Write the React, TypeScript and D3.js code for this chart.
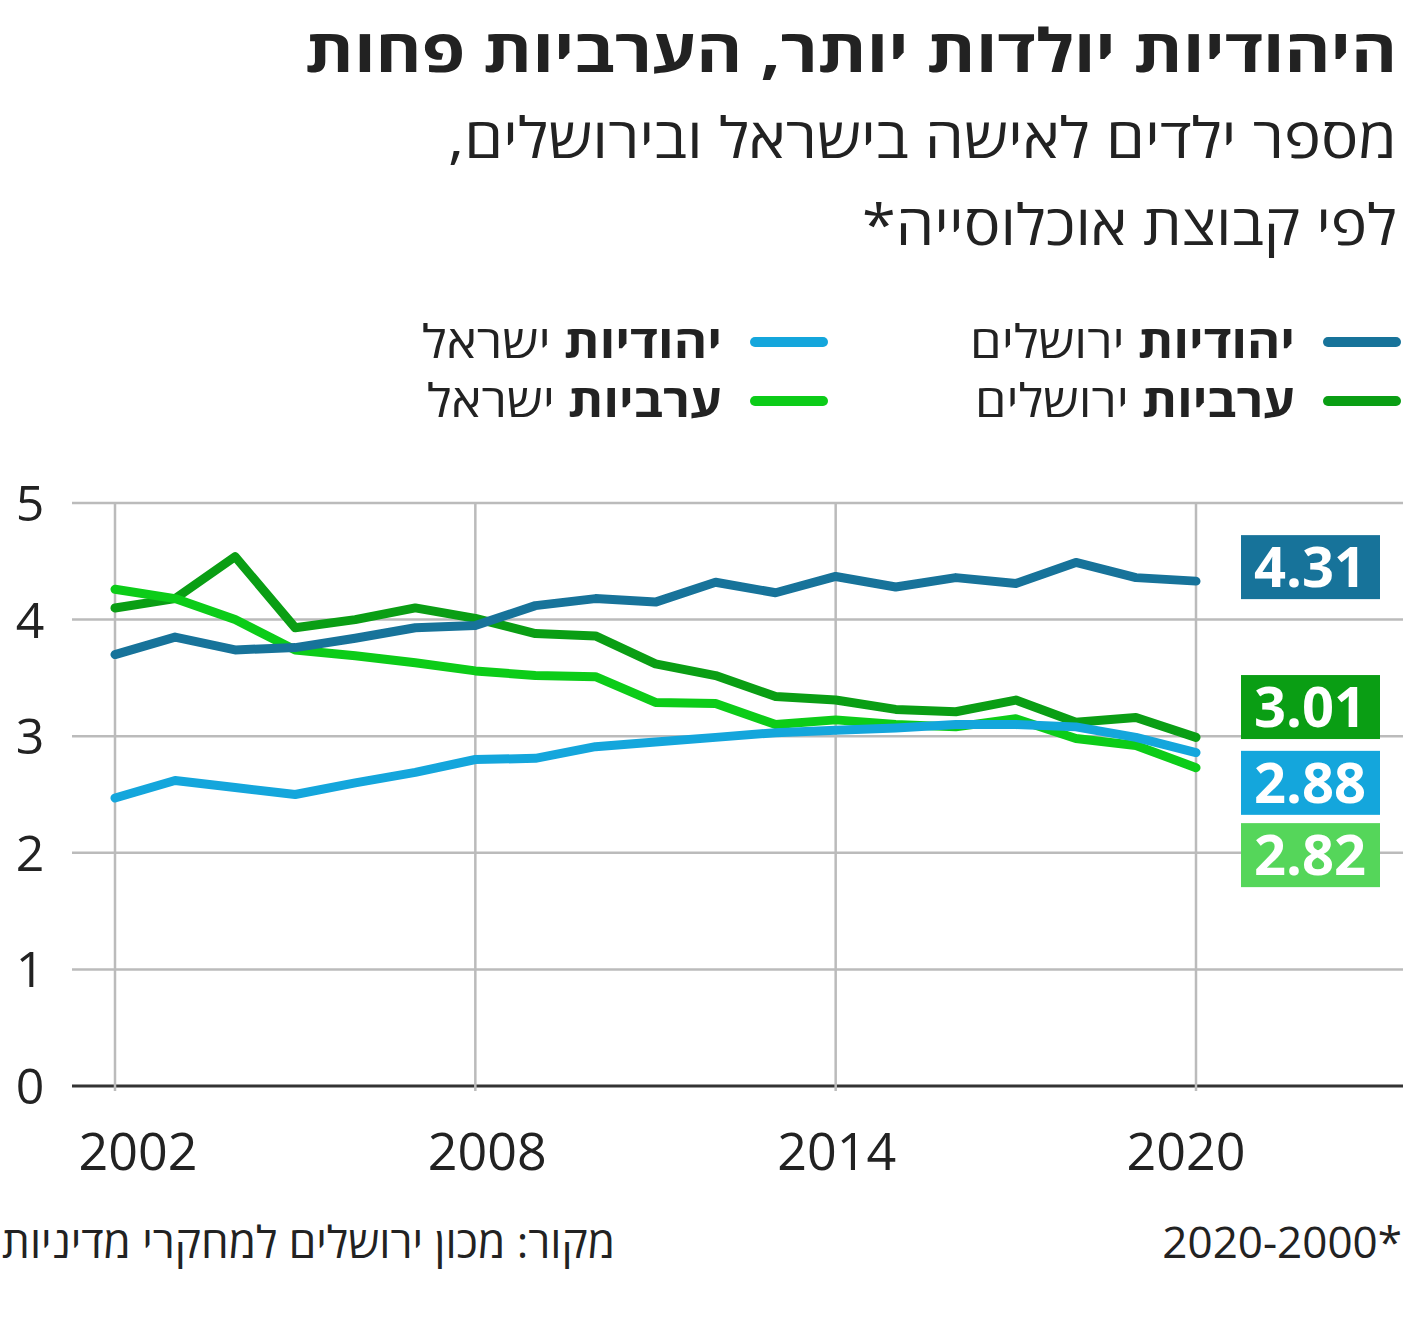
import React from 'react';
import * as d3 from 'd3';

const years = d3.range(2002, 2021);
const jerJewish = [3.70, 3.85, 3.74, 3.76, 3.84, 3.93, 3.95, 4.12, 4.18, 4.15, 4.32, 4.23, 4.37, 4.28, 4.36, 4.31, 4.49, 4.36, 4.33];
const isrJewish = [2.47, 2.62, 2.56, 2.50, 2.60, 2.69, 2.80, 2.81, 2.91, 2.95, 2.99, 3.03, 3.05, 3.07, 3.10, 3.10, 3.08, 2.99, 2.86];
const jerArab = [4.10, 4.18, 4.54, 3.93, 4.00, 4.10, 4.01, 3.88, 3.86, 3.62, 3.52, 3.34, 3.31, 3.23, 3.21, 3.31, 3.12, 3.16, 2.99];
const isrArab = [4.26, 4.18, 4.00, 3.74, 3.69, 3.63, 3.56, 3.52, 3.51, 3.29, 3.28, 3.10, 3.14, 3.10, 3.08, 3.15, 2.98, 2.92, 2.73];
const xTicks = [2002, 2008, 2014, 2020];
const yTicks = [0, 1, 2, 3, 4, 5];

const series = [
  { name: 'jerArab', values: jerArab, color: '#0a9e14', label: '3.01', labelY: 3.25, box: '#0a9e14' },
  { name: 'isrArab', values: isrArab, color: '#0ccc18', label: '2.82', labelY: 1.98, box: '#55d65a' },
  { name: 'isrJewish', values: isrJewish, color: '#14a6dc', label: '2.88', labelY: 2.6, box: '#14a6dc' },
  { name: 'jerJewish', values: jerJewish, color: '#17739a', label: '4.31', labelY: 4.45, box: '#17739a' },
];

const font = '"Open Sans", "Noto Sans", sans-serif';

export default function App() {
  const W = 1405, H = 1340;
  const x = d3.scaleLinear().domain([2002, 2020]).range([115, 1196]);
  const y = d3.scaleLinear().domain([0, 5]).range([1086, 503]);
  const line = d3.line<number>().x((_, i) => x(years[i])).y(d => y(d));

  const legend = [
    { lx: 1328, tx: 1295, ly: 342, bold: 'יהודיות', rest: ' ירושלים', color: '#17739a', len: 325 },
    { lx: 1328, tx: 1295, ly: 401, bold: 'ערביות', rest: ' ירושלים', color: '#0a9e14', len: 320 },
    { lx: 755, tx: 722, ly: 342, bold: 'יהודיות', rest: ' ישראל', color: '#14a6dc', len: 300 },
    { lx: 755, tx: 722, ly: 401, bold: 'ערביות', rest: ' ישראל', color: '#0ccc18', len: 295 },
  ];

  return (
    <svg width={W} height={H} style={{ position: 'absolute', left: 0, top: 0, background: '#fff' }} fontFamily={font}>
      <text x={1397} y={72} direction="rtl" textAnchor="start" fontSize={60} fontWeight={700} fill="#222" textLength={1092} lengthAdjust="spacingAndGlyphs">היהודיות יולדות יותר, הערביות פחות</text>
      <text x={1397} y={158} direction="rtl" textAnchor="start" fontSize={56} fill="#222" textLength={949} lengthAdjust="spacingAndGlyphs">מספר ילדים לאישה בישראל ובירושלים,</text>
      <text x={1397} y={245} direction="rtl" textAnchor="start" fontSize={56} fill="#222" textLength={535} lengthAdjust="spacingAndGlyphs">לפי קבוצת אוכלוסייה*</text>

      {legend.map(l => (
        <g key={l.bold + l.rest}>
          <line x1={l.lx} x2={l.lx + 68} y1={l.ly} y2={l.ly} stroke={l.color} strokeWidth={10} strokeLinecap="round" />
          <text x={l.tx} y={l.ly + 16} direction="rtl" textAnchor="start" fontSize={46} fill="#222" textLength={l.len} lengthAdjust="spacingAndGlyphs">
            <tspan fontWeight={700}>{l.bold}</tspan>
            <tspan>{l.rest}</tspan>
          </text>
        </g>
      ))}

      {yTicks.map(t => (
        <g key={t}>
          <line x1={72} x2={1403} y1={y(t)} y2={y(t)} stroke={t === 0 ? '#333' : '#bbb'} strokeWidth={t === 0 ? 3 : 2.5} />
          <text x={30} y={y(t) + 18} textAnchor="middle" fontSize={50} fill="#222">{t}</text>
        </g>
      ))}
      {xTicks.map((t, i) => (
        <g key={t}>
          <line x1={x(t)} x2={x(t)} y1={y(5)} y2={y(0) + 5} stroke="#bbb" strokeWidth={2.5} />
          <text x={x(t) + 23 - i * 11} y={1170} textAnchor="middle" fontSize={52} fill="#222">{t}</text>
        </g>
      ))}

      {series.map(s => (
        <path key={s.name} d={line(s.values) || ''} fill="none" stroke={s.color} strokeWidth={9} strokeLinejoin="round" strokeLinecap="round" />
      ))}

      {series.map(s => (
        <g key={s.name + 'lab'}>
          <rect x={1241} y={y(s.labelY) - 32} width={139} height={64} fill={s.box} />
          <text x={1310} y={y(s.labelY) + 20} textAnchor="middle" fontSize={56} fontWeight={700} fill="#fff">{s.label}</text>
        </g>
      ))}

      <text x={1402} y={1258} textAnchor="end" fontSize={44} fill="#222">2020-2000*</text>
      <text x={615} y={1258} direction="rtl" textAnchor="start" fontSize={44} fill="#222" textLength={613} lengthAdjust="spacingAndGlyphs">מקור: מכון ירושלים למחקרי מדיניות</text>
    </svg>
  );
}
